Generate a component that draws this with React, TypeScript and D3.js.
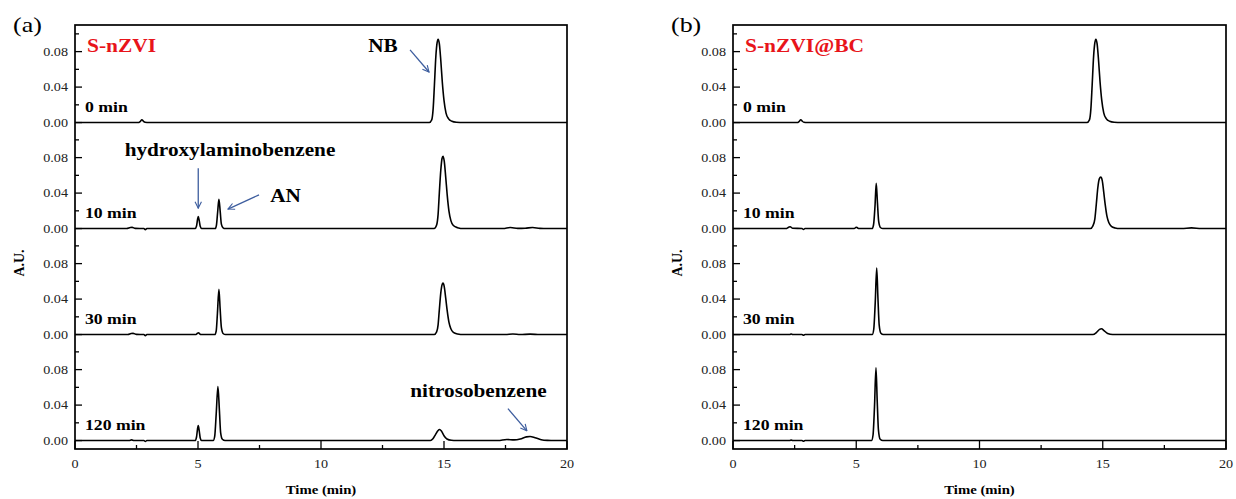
import React from 'react';
import * as d3 from 'd3';

type Pt = [number, number];

// ---------- data ----------
const timeTicks = [0, 5, 10, 15, 20];
const timeMinorTicks = [2.5, 7.5, 12.5, 17.5];
const auTicks = [0, 0.04, 0.08];
const auMinorTicks = [0.02, 0.06, 0.1];
const panelLetters = ['(a)', '(b)'];
const panelNames = ['S-nZVI', 'S-nZVI@BC'];
const sampleTimes = ['0 min', '10 min', '30 min', '120 min'];

// S-nZVI chromatograms (time min, A.U.)
const aTrace0: Pt[] = [
  [0, 0], [2.55, 0], [2.65, 0.0012], [2.72, 0.0032], [2.78, 0.0015], [2.85, 0.0003], [3.0, 0],
  [14.4, 0], [14.5, 0.003], [14.56, 0.016], [14.61, 0.042], [14.67, 0.075], [14.72, 0.09], [14.76, 0.094],
  [14.81, 0.089], [14.87, 0.07], [14.93, 0.046], [15.0, 0.025], [15.08, 0.011], [15.18, 0.0045],
  [15.32, 0.0015], [15.5, 0.0004], [15.8, 0], [20, 0],
];
const aTrace1: Pt[] = [
  [0, 0], [2.1, 0], [2.25, 0.0012], [2.32, 0.0014], [2.45, 0.0002], [2.8, 0], [2.86, -0.0012], [2.92, 0],
  [4.88, 0], [4.94, 0.003], [4.98, 0.01], [5.01, 0.0135], [5.05, 0.009], [5.09, 0.0025], [5.15, 0],
  [5.7, 0], [5.75, 0.004], [5.8, 0.019], [5.85, 0.033], [5.9, 0.02], [5.95, 0.005], [6.02, 0.0008], [6.1, 0],
  [14.6, 0], [14.7, 0.004], [14.76, 0.016], [14.81, 0.04], [14.87, 0.066], [14.92, 0.079], [14.96, 0.0815],
  [15.01, 0.076], [15.07, 0.058], [15.13, 0.038], [15.2, 0.02], [15.28, 0.009], [15.38, 0.0035], [15.55, 0.001], [15.8, 0],
  [17.4, 0], [17.7, 0.0012], [18.0, 0.0002], [18.3, 0.0004], [18.6, 0.0012], [18.9, 0.0002], [19.2, 0], [20, 0],
];
const aTrace2: Pt[] = [
  [0, 0], [2.15, 0], [2.28, 0.0012], [2.36, 0.0014], [2.5, 0.0002], [2.8, 0], [2.86, -0.0012], [2.92, 0],
  [4.92, 0], [4.98, 0.0015], [5.02, 0.002], [5.07, 0.0008], [5.12, 0],
  [5.68, 0], [5.74, 0.004], [5.79, 0.024], [5.85, 0.051], [5.9, 0.029], [5.95, 0.008], [6.02, 0.0012], [6.12, 0],
  [14.6, 0], [14.7, 0.003], [14.76, 0.011], [14.81, 0.028], [14.87, 0.047], [14.92, 0.056], [14.96, 0.058],
  [15.01, 0.054], [15.07, 0.041], [15.13, 0.027], [15.2, 0.014], [15.28, 0.0065], [15.38, 0.0025], [15.55, 0.0007], [15.8, 0],
  [17.5, 0], [17.8, 0.0006], [18.1, 0], [18.5, 0.0005], [18.9, 0], [20, 0],
];
const aTrace3: Pt[] = [
  [0, 0], [2.2, 0], [2.3, 0.0008], [2.4, 0], [2.8, 0], [2.86, -0.001], [2.92, 0],
  [4.88, 0], [4.94, 0.004], [4.98, 0.013], [5.01, 0.017], [5.05, 0.011], [5.09, 0.003], [5.15, 0],
  [5.62, 0], [5.68, 0.005], [5.74, 0.03], [5.81, 0.061], [5.87, 0.034], [5.92, 0.009], [5.99, 0.0015], [6.1, 0],
  [14.45, 0], [14.55, 0.002], [14.65, 0.0065], [14.75, 0.011], [14.82, 0.0125], [14.9, 0.0105], [15.0, 0.0055],
  [15.12, 0.0018], [15.3, 0.0003], [15.5, 0],
  [17.2, 0], [17.55, 0.0012], [17.85, 0.0008], [18.1, 0.0018], [18.35, 0.0042], [18.5, 0.0046], [18.7, 0.0032],
  [18.95, 0.001], [19.2, 0.0002], [19.5, 0], [20, 0],
];

// S-nZVI@BC chromatograms
const bTrace0: Pt[] = [
  [0, 0], [2.6, 0], [2.68, 0.0012], [2.75, 0.0032], [2.81, 0.0015], [2.88, 0.0003], [3.0, 0],
  [14.36, 0], [14.46, 0.003], [14.52, 0.016], [14.57, 0.042], [14.63, 0.075], [14.68, 0.09], [14.72, 0.094],
  [14.77, 0.089], [14.83, 0.07], [14.89, 0.046], [14.96, 0.025], [15.04, 0.011], [15.14, 0.0045],
  [15.28, 0.0015], [15.46, 0.0004], [15.76, 0], [20, 0],
];
const bTrace1: Pt[] = [
  [0, 0], [2.15, 0], [2.26, 0.0015], [2.32, 0.002], [2.42, 0.0004], [2.8, 0], [2.86, -0.001], [2.92, 0],
  [4.92, 0], [4.98, 0.0012], [5.02, 0.0015], [5.07, 0.0004], [5.12, 0],
  [5.64, 0], [5.7, 0.004], [5.76, 0.025], [5.81, 0.051], [5.86, 0.029], [5.91, 0.008], [5.98, 0.0012], [6.08, 0],
  [14.5, 0], [14.6, 0.003], [14.68, 0.011], [14.74, 0.028], [14.8, 0.046], [14.86, 0.056], [14.92, 0.058],
  [14.98, 0.054], [15.04, 0.041], [15.1, 0.027], [15.17, 0.014], [15.25, 0.0065], [15.35, 0.0025], [15.5, 0.0007], [15.7, 0],
  [18.2, 0], [18.6, 0.0008], [19.0, 0], [20, 0],
];
const bTrace2: Pt[] = [
  [0, 0], [2.3, 0], [2.36, 0.0006], [2.42, 0], [2.8, 0], [2.86, -0.0008], [2.92, 0],
  [5.65, 0], [5.71, 0.006], [5.77, 0.036], [5.83, 0.075], [5.88, 0.041], [5.93, 0.011], [6.0, 0.0015], [6.1, 0],
  [14.6, 0], [14.75, 0.0025], [14.87, 0.0058], [14.95, 0.0065], [15.05, 0.0045], [15.2, 0.0012], [15.4, 0], [20, 0],
];
const bTrace3: Pt[] = [
  [0, 0], [2.3, 0], [2.36, 0.0005], [2.42, 0], [2.8, 0], [2.86, -0.0008], [2.92, 0],
  [5.62, 0], [5.68, 0.006], [5.74, 0.038], [5.8, 0.082], [5.85, 0.045], [5.9, 0.012], [5.97, 0.0015], [6.08, 0], [20, 0],
];

const panelTraces: Pt[][][] = [
  [aTrace0, aTrace1, aTrace2, aTrace3],
  [bTrace0, bTrace1, bTrace2, bTrace3],
];

// annotations (left panel only): label, sub-panel, text anchor (time, AU), arrow tail, arrow tip
const annLabels = ['NB', 'hydroxylaminobenzene', 'AN', 'nitrosobenzene'];
const annRow = [0, 1, 1, 3];
const annText: Pt[] = [[12.52, 0.0796], [6.3, 0.082], [8.56, 0.03], [16.4, 0.0495]];
const annTail: Pt[] = [[13.62, 0.082], [5.01, 0.068], [7.48, 0.038], [17.6, 0.036]];
const annTip: Pt[] = [[14.39, 0.057], [5.01, 0.023], [6.22, 0.022], [18.37, 0.011]];

// ---------- layout ----------
const W = 1236;
const H = 499;
const plotX: [number, number][] = [[75, 567], [733, 1226]];
const TOP = 25;
const SUB_H = 106;
const N = 4;
const Y_DOMAIN: [number, number] = [-0.0095, 0.11];
const FONT = '"Liberation Serif", "Times New Roman", serif';
const SX = 1.18;
const BLUE = '#3d5d9e';
const RED = '#e8141a';

const Txt = ({ x, y, size, bold, anchor, fill, children, sx = SX }: any) => (
  <text
    transform={`translate(${x},${y}) scale(${sx},1)`}
    fontSize={size}
    fontWeight={bold ? 'bold' : 'normal'}
    textAnchor={anchor || 'start'}
    fill={fill || '#000'}
    fontFamily={FONT}
  >
    {children}
  </text>
);

function Panel({ p }: { p: number }) {
  const [x0, x1] = plotX[p];
  const x = d3.scaleLinear().domain([0, 20]).range([x0, x1]);
  const bottom = TOP + SUB_H * N;
  const ys = d3.range(N).map((i) =>
    d3.scaleLinear().domain(Y_DOMAIN).range([TOP + SUB_H * (i + 1), TOP + SUB_H * i])
  );
  return (
    <g>
      {panelTraces[p].map((tr, i) => {
        const line = d3
          .line<Pt>()
          .x((d) => x(d[0]))
          .y((d) => ys[i](d[1]))
          .curve(d3.curveMonotoneX);
        return <path key={i} d={line(tr) || ''} fill="none" stroke="#000" strokeWidth={1.6} strokeLinejoin="round" />;
      })}
      {/* y axis ticks per sub-panel */}
      {ys.map((y, i) => (
        <g key={'y' + i}>
          {auTicks.map((t) => (
            <g key={t}>
              <line x1={x0} x2={x0 + 7} y1={y(t)} y2={y(t)} stroke="#000" strokeWidth={1.3} />
              <Txt x={x0 - 7} y={y(t) + 4} size={12} anchor="end" fill="#222">
                {d3.format('.2f')(t)}
              </Txt>
            </g>
          ))}
          {auMinorTicks.map((t) => (
            <line key={'m' + t} x1={x0} x2={x0 + 4} y1={y(t)} y2={y(t)} stroke="#000" strokeWidth={1.3} />
          ))}
          <Txt x={x0 + 10} y={y(0) - 11} size={15} bold>
            {sampleTimes[i]}
          </Txt>
        </g>
      ))}
      {/* x axis */}
      {timeTicks.map((t) => (
        <g key={'x' + t}>
          <line x1={x(t)} x2={x(t)} y1={bottom} y2={bottom - 8} stroke="#000" strokeWidth={1.3} />
          <Txt x={x(t)} y={bottom + 19} size={12} anchor="middle" fill="#222">
            {t}
          </Txt>
        </g>
      ))}
      {timeMinorTicks.map((t) => (
        <line key={'xm' + t} x1={x(t)} x2={x(t)} y1={bottom} y2={bottom - 4} stroke="#000" strokeWidth={1.3} />
      ))}
      <rect x={x0} y={TOP} width={x1 - x0} height={bottom - TOP} fill="none" stroke="#000" strokeWidth={1.7} />
      <Txt x={(x0 + x1) / 2} y={494} size={12.5} bold anchor="middle">
        Time (min)
      </Txt>
      <text
        transform={`translate(${x0 - 51},${(TOP + bottom) / 2 + 26}) rotate(-90)`}
        fontSize={14}
        fontWeight="bold"
        textAnchor="middle"
        fontFamily={FONT}
      >
        A.U.
      </text>
      <Txt x={x0 - 62} y={32} size={22}>
        {panelLetters[p]}
      </Txt>
      <Txt x={x0 + 12} y={52} size={19} bold fill={RED} sx={1.13}>
        {panelNames[p]}
      </Txt>
      {p === 0 &&
        annLabels.map((lab, k) => {
          const y = ys[annRow[k]];
          return (
            <g key={lab}>
              <Txt x={x(annText[k][0])} y={y(annText[k][1])} size={18} bold anchor="middle">
                {lab}
              </Txt>
              <line
                x1={x(annTail[k][0])}
                y1={y(annTail[k][1])}
                x2={x(annTip[k][0])}
                y2={y(annTip[k][1])}
                stroke={BLUE}
                strokeWidth={1.3}
                markerEnd="url(#arrowHead)"
              />
            </g>
          );
        })}
    </g>
  );
}

export default function App() {
  return (
    <svg
      width={W}
      height={H}
      viewBox={`0 0 ${W} ${H}`}
      style={{ position: 'absolute', left: 0, top: 0, background: '#fff' }}
    >
      <defs>
        <marker id="arrowHead" viewBox="0 0 10 10" refX="9" refY="5" markerWidth="8" markerHeight="8" orient="auto" markerUnits="userSpaceOnUse">
          <path d="M1,1 L9,5 L1,9" fill="none" stroke={BLUE} strokeWidth={1.4} />
        </marker>
      </defs>
      <rect x={0} y={0} width={W} height={H} fill="#fff" />
      <Panel p={0} />
      <Panel p={1} />
    </svg>
  );
}
